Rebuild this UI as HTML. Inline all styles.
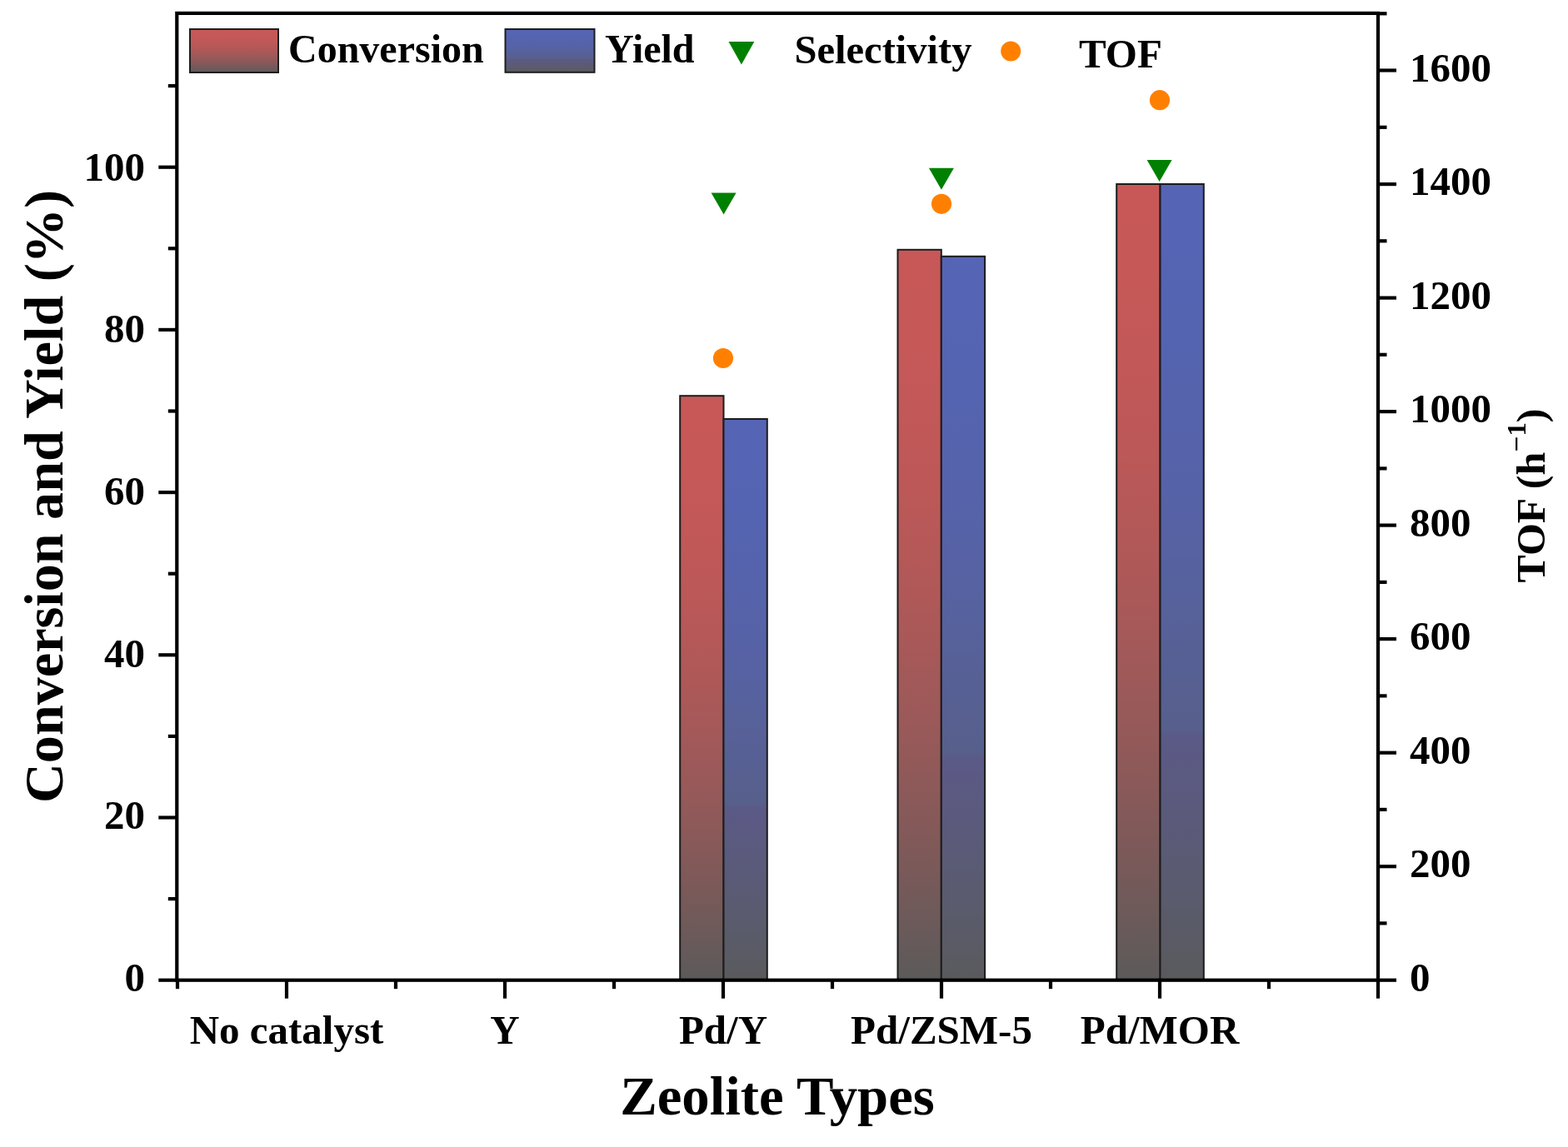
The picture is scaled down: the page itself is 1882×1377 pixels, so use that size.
<!DOCTYPE html>
<html><head><meta charset="utf-8"><style>
html,body{margin:0;padding:0;background:#fff;}
svg{display:block}
text{font-family:"Liberation Serif","Times New Roman",serif;font-weight:bold;fill:#000}
</style></head><body>
<svg width="1882" height="1377" viewBox="0 0 1882 1377">
<defs>
<linearGradient id="gr" x1="0" y1="0" x2="0" y2="1"><stop offset="0.000" stop-color="rgb(200,88,88)"/><stop offset="0.083" stop-color="rgb(199,88,88)"/><stop offset="0.167" stop-color="rgb(197,88,88)"/><stop offset="0.250" stop-color="rgb(193,88,88)"/><stop offset="0.333" stop-color="rgb(188,88,88)"/><stop offset="0.417" stop-color="rgb(181,88,88)"/><stop offset="0.500" stop-color="rgb(173,88,88)"/><stop offset="0.583" stop-color="rgb(163,89,89)"/><stop offset="0.667" stop-color="rgb(152,89,89)"/><stop offset="0.750" stop-color="rgb(139,89,89)"/><stop offset="0.833" stop-color="rgb(125,89,89)"/><stop offset="0.917" stop-color="rgb(109,90,90)"/><stop offset="1.000" stop-color="rgb(92,90,90)"/></linearGradient>
<linearGradient id="gb" x1="0" y1="0" x2="0" y2="1"><stop offset="0.000" stop-color="rgb(85,100,180)"/><stop offset="0.050" stop-color="rgb(85,100,180)"/><stop offset="0.100" stop-color="rgb(85,100,179)"/><stop offset="0.150" stop-color="rgb(85,100,178)"/><stop offset="0.200" stop-color="rgb(85,100,176)"/><stop offset="0.250" stop-color="rgb(85,99,174)"/><stop offset="0.300" stop-color="rgb(85,99,172)"/><stop offset="0.350" stop-color="rgb(86,99,169)"/><stop offset="0.400" stop-color="rgb(86,98,166)"/><stop offset="0.450" stop-color="rgb(86,98,162)"/><stop offset="0.500" stop-color="rgb(86,98,158)"/><stop offset="0.550" stop-color="rgb(87,97,153)"/><stop offset="0.600" stop-color="rgb(87,96,148)"/><stop offset="0.650" stop-color="rgb(87,96,143)"/><stop offset="0.685" stop-color="rgb(87,95,139)"/><stop offset="0.695" stop-color="rgb(91,89,135)"/><stop offset="0.700" stop-color="rgb(91,89,134)"/><stop offset="0.750" stop-color="rgb(91,90,128)"/><stop offset="0.800" stop-color="rgb(90,90,122)"/><stop offset="0.850" stop-color="rgb(90,91,115)"/><stop offset="0.900" stop-color="rgb(90,91,108)"/><stop offset="0.950" stop-color="rgb(90,91,101)"/><stop offset="1.000" stop-color="rgb(90,90,92)"/></linearGradient>
</defs>
<rect x="0" y="0" width="1882" height="1377" fill="#fff"/>

<rect x="816.2" y="475.2" width="52.3" height="701.5" fill="url(#gr)" stroke="#1c1c1c" stroke-width="2"/>
<rect x="868.5" y="503.0" width="52.3" height="673.7" fill="url(#gb)" stroke="#1c1c1c" stroke-width="2"/>
<rect x="1077.5" y="299.8" width="52.3" height="876.9" fill="url(#gr)" stroke="#1c1c1c" stroke-width="2"/>
<rect x="1129.8" y="307.8" width="52.3" height="868.9" fill="url(#gb)" stroke="#1c1c1c" stroke-width="2"/>
<rect x="1340.2" y="221.0" width="52.3" height="955.7" fill="url(#gr)" stroke="#1c1c1c" stroke-width="2"/>
<rect x="1392.5" y="221.0" width="52.3" height="955.7" fill="url(#gb)" stroke="#1c1c1c" stroke-width="2"/>
<polygon points="853.6,231.4 883.6,231.4 868.6,257.4" fill="#008000"/>
<polygon points="1114.9,201.8 1144.9,201.8 1129.9,227.8" fill="#008000"/>
<polygon points="1376.6,191.9 1406.6,191.9 1391.6,217.9" fill="#008000"/>
<circle cx="868" cy="430" r="12.1" fill="#ff8000"/>
<circle cx="1130" cy="244.8" r="12.1" fill="#ff8000"/>
<circle cx="1392" cy="120.2" r="12.1" fill="#ff8000"/>
<rect x="212.3" y="15.9" width="1441.7" height="1160.8" fill="none" stroke="#000" stroke-width="4.2"/>
<line x1="190.3" y1="1176.7" x2="212.3" y2="1176.7" stroke="#000" stroke-width="4.2"/>
<text x="174" y="1190.1" font-size="49" text-anchor="end">0</text>
<line x1="201.8" y1="1079.1" x2="212.3" y2="1079.1" stroke="#000" stroke-width="4.2"/>
<line x1="190.3" y1="981.5" x2="212.3" y2="981.5" stroke="#000" stroke-width="4.2"/>
<text x="174" y="995.4" font-size="49" text-anchor="end">20</text>
<line x1="201.8" y1="883.9" x2="212.3" y2="883.9" stroke="#000" stroke-width="4.2"/>
<line x1="190.3" y1="786.3" x2="212.3" y2="786.3" stroke="#000" stroke-width="4.2"/>
<text x="174" y="800.7" font-size="49" text-anchor="end">40</text>
<line x1="201.8" y1="688.7" x2="212.3" y2="688.7" stroke="#000" stroke-width="4.2"/>
<line x1="190.3" y1="591.1" x2="212.3" y2="591.1" stroke="#000" stroke-width="4.2"/>
<text x="174" y="605.9" font-size="49" text-anchor="end">60</text>
<line x1="201.8" y1="493.5" x2="212.3" y2="493.5" stroke="#000" stroke-width="4.2"/>
<line x1="190.3" y1="395.9" x2="212.3" y2="395.9" stroke="#000" stroke-width="4.2"/>
<text x="174" y="411.2" font-size="49" text-anchor="end">80</text>
<line x1="201.8" y1="298.3" x2="212.3" y2="298.3" stroke="#000" stroke-width="4.2"/>
<line x1="190.3" y1="200.7" x2="212.3" y2="200.7" stroke="#000" stroke-width="4.2"/>
<text x="174" y="216.5" font-size="49" text-anchor="end">100</text>
<line x1="201.8" y1="103.1" x2="212.3" y2="103.1" stroke="#000" stroke-width="4.2"/>
<line x1="1654" y1="1176.7" x2="1676" y2="1176.7" stroke="#000" stroke-width="4.2"/>
<text x="1692" y="1189.7" font-size="49">0</text>
<line x1="1654" y1="1108.4" x2="1664.5" y2="1108.4" stroke="#000" stroke-width="4.2"/>
<line x1="1654" y1="1040.2" x2="1676" y2="1040.2" stroke="#000" stroke-width="4.2"/>
<text x="1692" y="1053.2" font-size="49">200</text>
<line x1="1654" y1="971.9" x2="1664.5" y2="971.9" stroke="#000" stroke-width="4.2"/>
<line x1="1654" y1="903.7" x2="1676" y2="903.7" stroke="#000" stroke-width="4.2"/>
<text x="1692" y="916.7" font-size="49">400</text>
<line x1="1654" y1="835.4" x2="1664.5" y2="835.4" stroke="#000" stroke-width="4.2"/>
<line x1="1654" y1="767.1" x2="1676" y2="767.1" stroke="#000" stroke-width="4.2"/>
<text x="1692" y="780.1" font-size="49">600</text>
<line x1="1654" y1="698.9" x2="1664.5" y2="698.9" stroke="#000" stroke-width="4.2"/>
<line x1="1654" y1="630.6" x2="1676" y2="630.6" stroke="#000" stroke-width="4.2"/>
<text x="1692" y="643.6" font-size="49">800</text>
<line x1="1654" y1="562.4" x2="1664.5" y2="562.4" stroke="#000" stroke-width="4.2"/>
<line x1="1654" y1="494.1" x2="1676" y2="494.1" stroke="#000" stroke-width="4.2"/>
<text x="1692" y="507.1" font-size="49">1000</text>
<line x1="1654" y1="425.8" x2="1664.5" y2="425.8" stroke="#000" stroke-width="4.2"/>
<line x1="1654" y1="357.6" x2="1676" y2="357.6" stroke="#000" stroke-width="4.2"/>
<text x="1692" y="370.6" font-size="49">1200</text>
<line x1="1654" y1="289.3" x2="1664.5" y2="289.3" stroke="#000" stroke-width="4.2"/>
<line x1="1654" y1="221.1" x2="1676" y2="221.1" stroke="#000" stroke-width="4.2"/>
<text x="1692" y="234.1" font-size="49">1400</text>
<line x1="1654" y1="152.8" x2="1664.5" y2="152.8" stroke="#000" stroke-width="4.2"/>
<line x1="1654" y1="84.5" x2="1676" y2="84.5" stroke="#000" stroke-width="4.2"/>
<text x="1692" y="97.5" font-size="49">1600</text>
<line x1="1654" y1="16.3" x2="1664.5" y2="16.3" stroke="#000" stroke-width="4.2"/>
<line x1="213.0" y1="1176.7" x2="213.0" y2="1187.2" stroke="#000" stroke-width="4.2"/>
<line x1="344.0" y1="1176.7" x2="344.0" y2="1198.7" stroke="#000" stroke-width="4.2"/>
<line x1="475.0" y1="1176.7" x2="475.0" y2="1187.2" stroke="#000" stroke-width="4.2"/>
<line x1="606.0" y1="1176.7" x2="606.0" y2="1198.7" stroke="#000" stroke-width="4.2"/>
<line x1="737.0" y1="1176.7" x2="737.0" y2="1187.2" stroke="#000" stroke-width="4.2"/>
<line x1="868.0" y1="1176.7" x2="868.0" y2="1198.7" stroke="#000" stroke-width="4.2"/>
<line x1="999.0" y1="1176.7" x2="999.0" y2="1187.2" stroke="#000" stroke-width="4.2"/>
<line x1="1130.0" y1="1176.7" x2="1130.0" y2="1198.7" stroke="#000" stroke-width="4.2"/>
<line x1="1261.0" y1="1176.7" x2="1261.0" y2="1187.2" stroke="#000" stroke-width="4.2"/>
<line x1="1392.0" y1="1176.7" x2="1392.0" y2="1198.7" stroke="#000" stroke-width="4.2"/>
<line x1="1523.0" y1="1176.7" x2="1523.0" y2="1187.2" stroke="#000" stroke-width="4.2"/>
<line x1="1654.0" y1="1176.7" x2="1654.0" y2="1198.7" stroke="#000" stroke-width="4.2"/>
<text x="344" y="1252.5" font-size="49" text-anchor="middle">No catalyst</text>
<text x="606" y="1252.5" font-size="49" text-anchor="middle">Y</text>
<text x="868" y="1252.5" font-size="49" text-anchor="middle">Pd/Y</text>
<text x="1130" y="1252.5" font-size="49" text-anchor="middle">Pd/ZSM-5</text>
<text x="1392" y="1252.5" font-size="49" text-anchor="middle">Pd/MOR</text>
<text x="933" y="1337.7" font-size="66" text-anchor="middle" textLength="377.6" lengthAdjust="spacingAndGlyphs">Zeolite Types</text>
<text transform="translate(75.2,596) rotate(-90)" font-size="66" text-anchor="middle" textLength="736" lengthAdjust="spacingAndGlyphs">Conversion and Yield (%)</text>
<text transform="translate(1853.5,595) rotate(-90)" font-size="48" text-anchor="middle" textLength="209" lengthAdjust="spacingAndGlyphs">TOF (h<tspan font-size="32" dy="-22.5">&#8722;1</tspan><tspan dy="22.5">)</tspan></text>
<rect x="228" y="35" width="106" height="52" fill="url(#gr)" stroke="#1e1e1e" stroke-width="2"/>
<text x="346" y="75.1" font-size="48">Conversion</text>
<rect x="606.5" y="35" width="107" height="51.8" fill="url(#gb)" stroke="#1e1e1e" stroke-width="2"/>
<text x="726" y="75.1" font-size="48">Yield</text>
<polygon points="874.5,50 905.3,50 889.9,77.6" fill="#008000"/>
<text x="953.5" y="76" font-size="48" textLength="213" lengthAdjust="spacingAndGlyphs">Selectivity</text>
<circle cx="1213.2" cy="61.6" r="12" fill="#ff8000"/>
<text x="1295" y="80.7" font-size="48" textLength="99.9" lengthAdjust="spacingAndGlyphs">TOF</text>
</svg></body></html>
